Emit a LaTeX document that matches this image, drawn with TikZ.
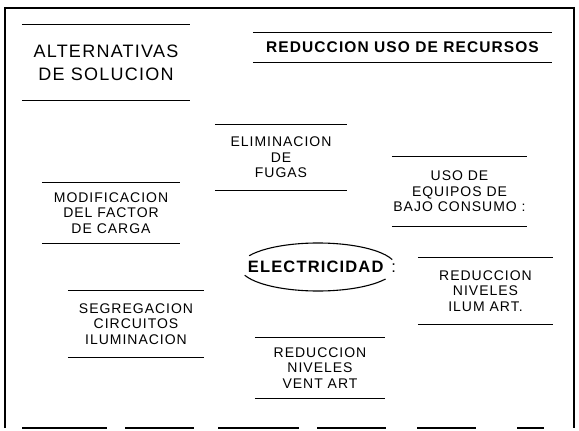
\documentclass[tikz,border=0pt]{standalone}
\usepackage{fontspec}
\setmainfont{Liberation Sans}[LetterSpace=7]
\usetikzlibrary{positioning}

\begin{document}
\begin{tikzpicture}[
  x=1pt, y=-1pt,
  rulebox/.style={rectangle, inner sep=0pt, align=center,
                  font=\fontsize{14}{15.5}\selectfont},
  rule/.style={line width=1.1pt},
  frame/.style={line width=1.6pt}
]
  \useasboundingbox (0,0) rectangle (579,431);

  % Outer frame
  \draw[frame] (5,428) -- (5,8) -- (574,8) -- (574,428);
  \foreach \a/\b in {22/107,125/194,218/299,317/386,417/476,517/544}
    \draw[frame] (\a,428) -- (\b,428);

  % Headings
  \node[rulebox, minimum width=168pt, minimum height=75pt,
        font=\fontsize{18}{23}\selectfont] (alt) at (106,62.5) {ALTERNATIVAS\\DE SOLUCION};
  \node[rulebox, minimum width=299pt, minimum height=29pt,
        font=\fontsize{15.5}{17}\selectfont\bfseries] (rec) at (402.5,47.5) {REDUCCION USO DE RECURSOS};

  % Alternatives
  \node[rulebox, minimum width=132pt, minimum height=65pt] (fug) at (281,157.5) {ELIMINACION\\DE\\FUGAS};
  \node[rulebox, minimum width=135pt, minimum height=69pt] (equ) at (459.5,191.5) {USO DE\\EQUIPOS DE\\BAJO CONSUMO :};
  \node[rulebox, minimum width=138pt, minimum height=60pt] (mod) at (111,213) {MODIFICACION\\DEL FACTOR\\DE CARGA};
  \node[rulebox, minimum width=136pt, minimum height=66pt] (seg) at (136,324) {SEGREGACION\\CIRCUITOS\\ILUMINACION};
  \node[rulebox, minimum width=135pt, minimum height=66pt] (ilu) at (485.5,291) {REDUCCION\\NIVELES\\ILUM ART.};
  \node[rulebox, minimum width=130pt, minimum height=60pt] (ven) at (320,368) {REDUCCION\\NIVELES\\VENT ART};

  % Rules above and below each box
  \foreach \n in {alt,rec,fug,equ,mod,seg,ilu,ven}
    \draw[rule] (\n.north west) -- (\n.north east) (\n.south west) -- (\n.south east);

  % Centre
  \node[font=\fontsize{16.5}{20}\selectfont\bfseries] (elec) at (322,267) {ELECTRICIDAD\hspace{8pt}{\mdseries :}};
  \draw[rule] ([xshift=-4pt]elec.center) ++(18:78pt and 24pt)
    arc[start angle=18, end angle=152, x radius=78pt, y radius=24pt];
  \draw[rule] ([xshift=-4pt]elec.center) ++(200:78pt and 24pt)
    arc[start angle=200, end angle=330, x radius=78pt, y radius=24pt];
\end{tikzpicture}
\end{document}
